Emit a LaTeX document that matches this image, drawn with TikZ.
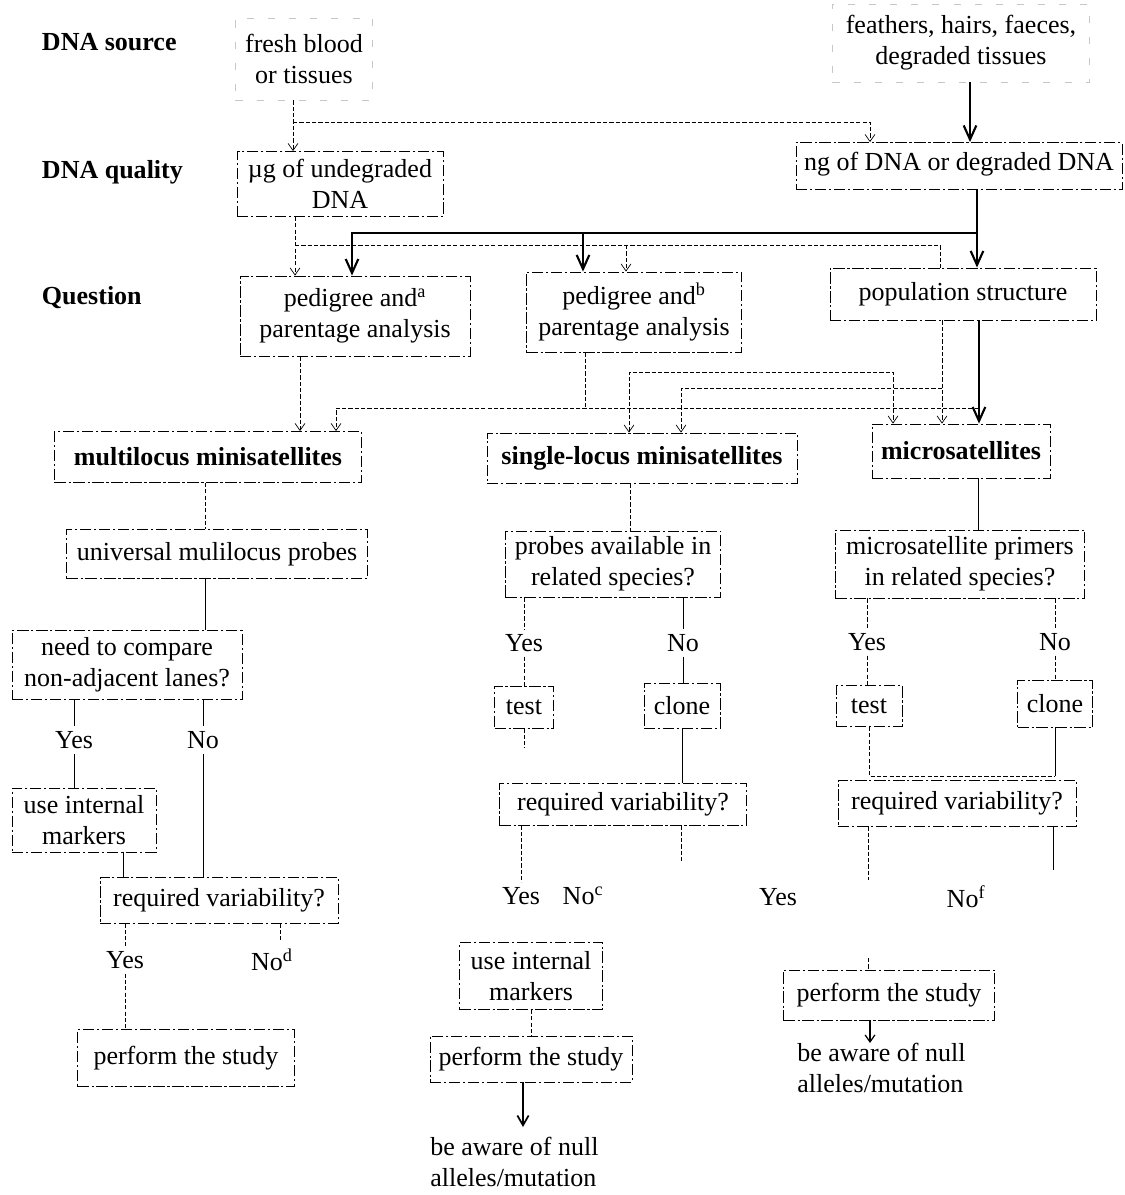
\documentclass[tikz,border=0pt]{standalone}
\usepackage{fontspec}
\setmainfont{Liberation Serif}
\usetikzlibrary{arrows.meta}

\begin{document}
\begin{tikzpicture}[x=0.025cm,y=-0.025cm,>={Straight Barb[length=5pt,width=7pt]},
  every node/.style={font=\fontsize{18.5}{22}\selectfont},
  box/.style 2 args={draw,line width=0.6pt,dash pattern=on 8pt off 2pt on 1.5pt off 2pt,minimum width=#1,minimum height=#2,align=center,inner sep=2pt},
  srcbox/.style 2 args={box={#1}{#2},draw=black!22,dash pattern=on 5pt off 10pt},
  row/.style={anchor=west,font=\fontsize{18.5}{22}\selectfont\bfseries},
  note/.style={align=left,anchor=north west,inner sep=0pt},
  dl/.style={line width=0.5pt,dash pattern=on 3pt off 1.5pt},
  sl/.style={line width=0.6pt},
  tl/.style={line width=1.5pt,-{Straight Barb[length=10pt,width=9pt]}}]
\useasboundingbox (0,0) rectangle (1124,1195);

% row labels
\node[row] (src) at (37,42) {DNA source};
\node[row] (qual) at (37,172) {DNA quality};
\node[row] (quest) at (37,298) {Question};

% source and quality
\node[srcbox={3.425cm}{2.05cm}] (s1) at (304,59) {fresh blood\\or tissues};
\node[srcbox={6.425cm}{1.95cm}] (s2) at (961,43) {feathers, hairs, faeces,\\degraded tissues};
\node[box={5.15cm}{1.625cm}] (ug) at (340,184) {µg of undegraded\\DNA};
\node[box={8.15cm}{1.175cm},text depth=6pt] (ng) at (959,166) {ng of DNA or degraded DNA};

% questions
\node[box={5.75cm}{2cm}] (pa) at (355,316) {pedigree and\textsuperscript{a}\\parentage analysis};
\node[box={5.375cm}{2cm}] (pb) at (634,312) {pedigree and\textsuperscript{b}\\parentage analysis};
\node[box={6.65cm}{1.3cm}] (pop) at (963,294) {population structure};

% markers
\node[box={7.675cm}{1.275cm},font=\fontsize{18.5}{22}\selectfont\bfseries] (multi) at (208,457) {multilocus minisatellites};
\node[box={7.75cm}{1.25cm},font=\fontsize{18.5}{22}\selectfont\bfseries] (single) at (642,458) {single-locus minisatellites};
\node[box={4.45cm}{1.35cm},font=\fontsize{18.5}{22}\selectfont\bfseries] (micro) at (961,451) {microsatellites};

% left branch
\node[box={7.525cm}{1.225cm}] (univ) at (217,554) {universal mulilocus probes};
\node[box={5.75cm}{1.725cm}] (need) at (127,665) {need to compare\\non-adjacent lanes?};
\node (ya) at (74,740) {Yes};
\node (na) at (203,740) {No};
\node[box={3.6cm}{1.6cm}] (il) at (84,820) {use internal\\markers};
\node[box={5.95cm}{1.15cm}] (vl) at (219,900) {required variability?};
\node (yb) at (125,960) {Yes};
\node (nb) at (272,960) {No\textsuperscript{d}};
\node[box={5.425cm}{1.425cm}] (pl) at (186,1058) {perform the study};

% middle branch
\node[box={5.375cm}{1.65cm}] (probes) at (613,564) {probes available in\\related species?};
\node (yc) at (524,643) {Yes};
\node (nc) at (683,643) {No};
\node[box={1.475cm}{1.05cm}] (tm) at (524,707) {test};
\node[box={1.9cm}{1.125cm}] (cm) at (682,706) {clone};
\node[box={6.175cm}{1.05cm}] (vm) at (623,804) {required variability?};
\node (yd) at (521,896) {Yes};
\node (nd) at (583,896) {No\textsuperscript{c}};
\node[box={3.575cm}{1.675cm}] (im) at (531,976) {use internal\\markers};
\node[box={5.05cm}{1.15cm}] (pm) at (531,1059) {perform the study};
\node[note] (aw1) at (430,1137) {be aware of null\\alleles/mutation};

% right branch
\node[box={6.225cm}{1.7cm}] (primers) at (960,564) {microsatellite primers\\in related species?};
\node (ye) at (867,642) {Yes};
\node (ne) at (1055,642) {No};
\node[box={1.65cm}{1.025cm}] (tr) at (869,706) {test};
\node[box={1.875cm}{1.175cm}] (cr) at (1055,704) {clone};
\node[box={5.95cm}{1.15cm}] (vr) at (957,803) {required variability?};
\node (yf) at (778,897) {Yes};
\node (nf) at (966,897) {No\textsuperscript{f}};
\node[box={5.275cm}{1.25cm}] (pr) at (889,995) {perform the study};
\node[note] (aw2) at (797,1043) {be aware of null\\alleles/mutation};

% junctions and loose ends
\coordinate (b1) at (293,122);
\coordinate (b2) at (295,245);
\coordinate (b3) at (626,245);
\coordinate (b4) at (977,233);
\coordinate (b5) at (583,233);
\coordinate (b6) at (585,408);
\coordinate (b7) at (979,408);
\coordinate (b8) at (760,372);
\coordinate (b9) at (942,388);
\coordinate (e2) at (280,942);
\coordinate (e3) at (524,748);
\coordinate (e5) at (681,862);
\coordinate (e6) at (523,1127);
\coordinate (e7) at (1055,776);
\coordinate (e8) at (868,880);
\coordinate (e9) at (1053,870);
\coordinate (e10) at (868,958);

% source -> quality
\draw[dl,->] (s1.south -| 293,0) -- (ug.north -| 293,0);
\draw[dl,->] (b1) -| (ng.north -| 870,0);
\draw[tl] (s2.south -| 970,0) -- (ng.north -| 970,0);

% quality -> question
\draw[dl,->] (ug.south -| 295,0) -- (pa.north -| 295,0);
\draw[dl] (b2) -| (pop.north -| 940,0);
\draw[dl,->] (b3) -- (pb.north -| b3);
\draw[tl] (ng.south -| 977,0) -- (pop.north -| 977,0);
\draw[tl] (b4) -| (pa.north -| 352,0);
\draw[tl] (b5) -- (pb.north -| b5);

% question -> markers
\draw[tl] (pop.south -| 979,0) -- (micro.north -| 979,0);
\draw[dl,->] (pop.south -| 942,0) -- (micro.north -| 942,0);
\draw[dl,->] (pa.south -| 300,0) -- (multi.north -| 300,0);
\draw[dl] (pb.south -| b6) -- (b6);
\draw[dl,->] (b7) -| (multi.north -| 336,0);
\draw[dl,<->] (single.north -| 629,0) |- (b8) -| (micro.north -| 893,0);
\draw[dl,->] (b9) -| (single.north -| 681,0);

% left branch
\draw[dl] (multi.south -| 205,0) -- (univ.north -| 205,0);
\draw[sl] (univ.south -| 205,0) -- (need.north -| 205,0);
\draw[sl] (need.south -| ya) -- (ya);
\draw[sl] (ya) -- (il.north -| ya);
\draw[sl] (need.south -| na) -- (na);
\draw[sl] (na) -- (vl.north -| na);
\draw[sl] (il.south -| 123,0) -- (vl.north -| 123,0);
\draw[dl] (vl.south -| yb) -- (yb);
\draw[dl] (yb) -- (pl.north -| yb);
\draw[dl] (vl.south -| e2) -- (e2);

% middle branch
\draw[dl] (single.south -| 630,0) -- (probes.north -| 630,0);
\draw[dl] (probes.south -| yc) -- (yc);
\draw[dl] (yc) -- (tm.north -| yc);
\draw[sl] (probes.south -| nc) -- (nc);
\draw[sl] (nc) -- (cm.north -| nc);
\draw[dl] (tm.south) -- (e3);
\draw[sl] (cm.south) -- (vm.north -| cm.south);
\draw[dl] (vm.south -| yd) -- (yd);
\draw[dl] (vm.south -| e5) -- (e5);
\draw[dl] (im.south) -- (pm.north);
\draw[line width=1.2pt,-{Straight Barb[length=7pt,width=8pt]}] (pm.south -| e6) -- (e6);

% right branch
\draw[sl] (micro.south -| 978,0) -- (primers.north -| 978,0);
\draw[dl] (primers.south -| ye) -- (ye);
\draw[dl] (ye) -- (tr.north -| ye);
\draw[dl] (primers.south -| ne) -- (ne);
\draw[dl] (ne) -- (cr.north -| ne);
\draw[dl] (tr.south) |- (e7);
\draw[sl] (cr.south) -- (e7);
\draw[dl] (vr.south -| e8) -- (e8);
\draw[sl] (vr.south -| e9) -- (e9);
\draw[dl] (e10) -- (pr.north -| e10);
\draw[line width=0.9pt,->] (pr.south -| 870,0) -- (aw2.north -| 870,0);
\end{tikzpicture}
\end{document}
